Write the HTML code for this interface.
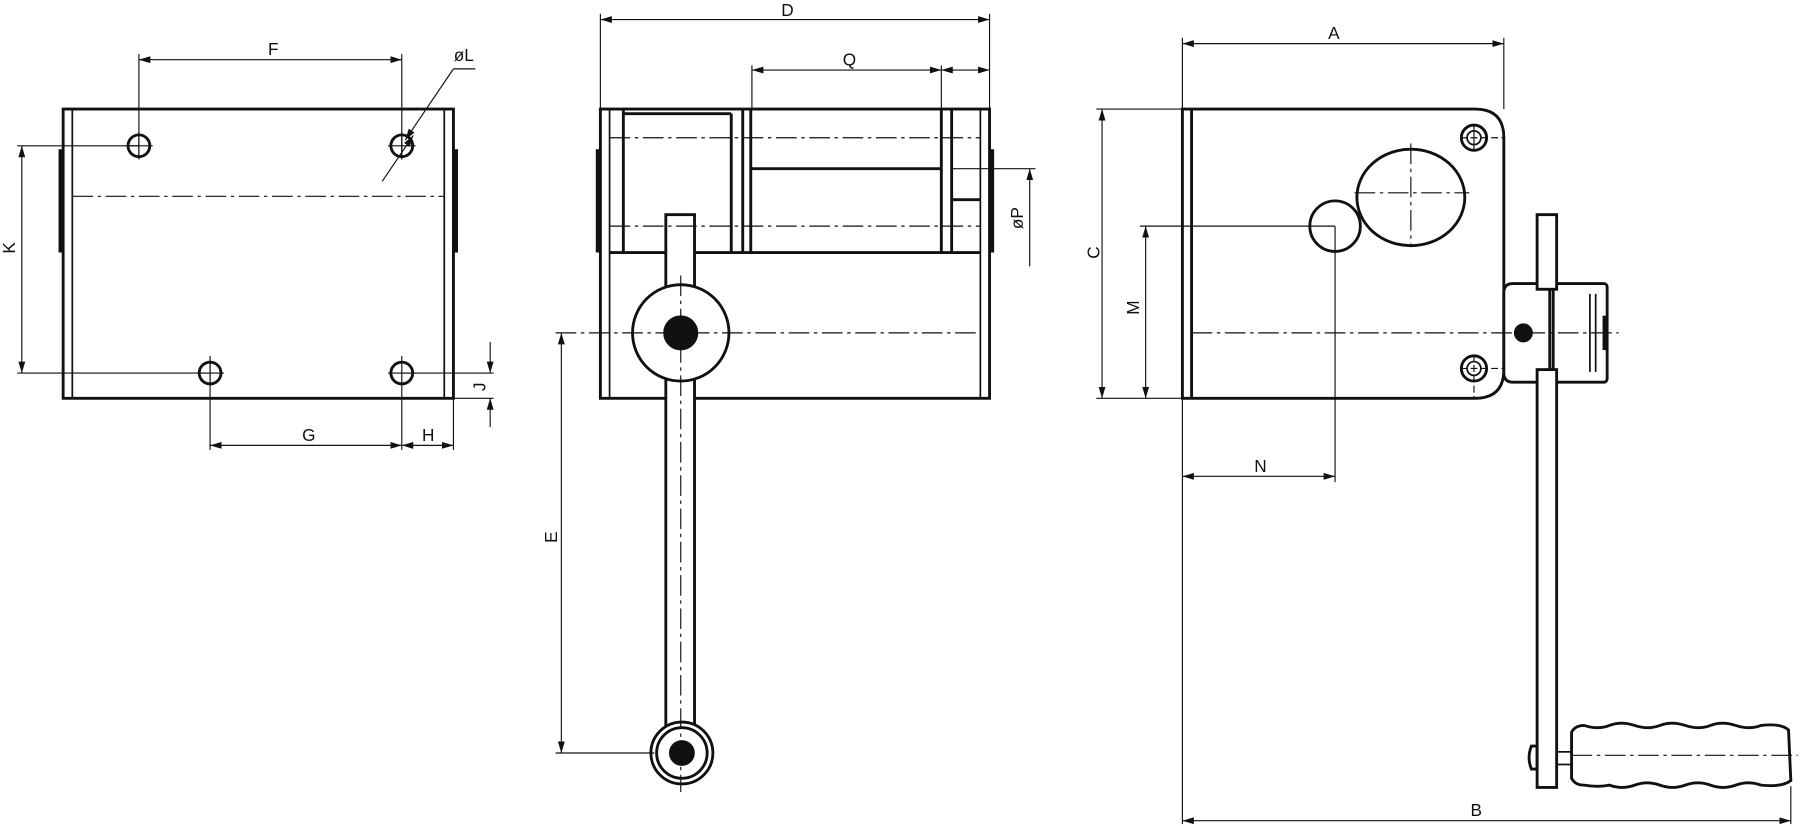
<!DOCTYPE html>
<html><head><meta charset="utf-8"><style>
html,body{margin:0;padding:0;background:#fff;}
svg{display:block;}
text{font-family:"Liberation Sans",sans-serif;font-size:15px;fill:#111;}
</style></head><body>
<svg width="1800" height="826" viewBox="0 0 1568 719.6" preserveAspectRatio="none" xmlns="http://www.w3.org/2000/svg">
<defs>
<marker id="a" viewBox="0 0 10 6" refX="10" refY="3" markerWidth="10" markerHeight="6" orient="auto-start-reverse" markerUnits="userSpaceOnUse"><path d="M0,0 L10,3 L0,6 Z" fill="#111"/></marker>
</defs>
<g fill="none" stroke="#111">
<!-- ===== LEFT VIEW ===== -->
<g stroke-width="2.5">
<rect x="55" y="95" width="340" height="252"/>
<line x1="63" y1="95" x2="63" y2="347" stroke-width="1.5"/>
<line x1="387" y1="95" x2="387" y2="347" stroke-width="1.5"/>
<line x1="53" y1="130" x2="53" y2="220" stroke-width="4"/>
<line x1="397" y1="130" x2="397" y2="220" stroke-width="4"/>
<circle cx="121" cy="127" r="9.5"/><circle cx="350" cy="127" r="9.5"/>
<circle cx="183" cy="325" r="9.5"/><circle cx="350" cy="325" r="9.5"/>
</g>
<g stroke-width="1">
<line x1="63" y1="171" x2="387" y2="171" stroke-dasharray="18,4,3,4"/>
<line x1="121" y1="47" x2="121" y2="137"/><line x1="350" y1="47" x2="350" y2="137"/>
<line x1="121" y1="52" x2="350" y2="52" marker-start="url(#a)" marker-end="url(#a)"/>
<line x1="333" y1="158" x2="360" y2="118" marker-end="url(#a)"/>
<line x1="395" y1="60" x2="353" y2="122" marker-end="url(#a)"/>
<line x1="395" y1="60" x2="414" y2="60"/>
<line x1="15" y1="127" x2="121" y2="127"/><line x1="15" y1="325" x2="183" y2="325"/>
<line x1="19" y1="127" x2="19" y2="325" marker-start="url(#a)" marker-end="url(#a)"/>
<line x1="183" y1="310" x2="183" y2="392"/><line x1="350" y1="310" x2="350" y2="392"/>
<line x1="395" y1="347" x2="395" y2="392"/>
<line x1="183" y1="388" x2="350" y2="388" marker-start="url(#a)" marker-end="url(#a)"/>
<line x1="350" y1="388" x2="395" y2="388" marker-start="url(#a)" marker-end="url(#a)"/>
<line x1="350" y1="325" x2="430" y2="325"/><line x1="395" y1="347" x2="430" y2="347"/>
<line x1="427" y1="298" x2="427" y2="325" marker-end="url(#a)"/>
<line x1="427" y1="372" x2="427" y2="347" marker-end="url(#a)"/>
<line x1="121" y1="115" x2="121" y2="139"/><line x1="109" y1="127" x2="133" y2="127"/>
<line x1="350" y1="115" x2="350" y2="139"/><line x1="338" y1="127" x2="362" y2="127"/>
<line x1="183" y1="313" x2="183" y2="337"/><line x1="171" y1="325" x2="195" y2="325"/>
<line x1="338" y1="325" x2="362" y2="325"/>
</g>
<!-- ===== MIDDLE VIEW ===== -->
<g stroke-width="2.5">
<rect x="523" y="95" width="339" height="252"/>
<line x1="531" y1="95" x2="531" y2="347" stroke-width="1.5"/>
<line x1="854" y1="95" x2="854" y2="347" stroke-width="1.5"/>
<line x1="521" y1="130" x2="521" y2="220" stroke-width="4"/>
<line x1="864" y1="130" x2="864" y2="220" stroke-width="4"/>
<line x1="543" y1="95" x2="543" y2="220"/>
<line x1="637" y1="99" x2="637" y2="220"/>
<line x1="543" y1="99" x2="637" y2="99"/>
<line x1="647" y1="95" x2="647" y2="220"/>
<line x1="654" y1="95" x2="654" y2="220"/>
<line x1="820" y1="95" x2="820" y2="220"/>
<line x1="829" y1="95" x2="829" y2="220"/>
<line x1="531" y1="220" x2="854" y2="220"/>
<line x1="654" y1="147" x2="820" y2="147"/>
<line x1="829" y1="174" x2="854" y2="174"/>
<rect x="580" y="187" width="25" height="468" fill="#fff"/>
<circle cx="593" cy="290" r="42" fill="#fff"/>
<circle cx="593" cy="290" r="14" fill="#111"/>
<circle cx="594" cy="656" r="27" fill="#fff"/>
<circle cx="594" cy="656" r="22"/>
<circle cx="594" cy="656" r="10" fill="#111"/>
</g>
<g stroke-width="1">
<line x1="531" y1="120" x2="854" y2="120" stroke-dasharray="18,4,3,4"/>
<line x1="531" y1="197" x2="854" y2="197" stroke-dasharray="18,4,3,4"/>
<line x1="484" y1="290" x2="854" y2="290" stroke-dasharray="18,4,3,4"/>
<line x1="593" y1="240" x2="593" y2="690" stroke-dasharray="18,4,3,4"/>
<line x1="484" y1="656" x2="570" y2="656"/>
<line x1="489" y1="290" x2="489" y2="656" marker-start="url(#a)" marker-end="url(#a)"/>
<line x1="523" y1="12" x2="523" y2="95"/><line x1="862" y1="12" x2="862" y2="95"/>
<line x1="523" y1="17" x2="862" y2="17" marker-start="url(#a)" marker-end="url(#a)"/>
<line x1="655" y1="57" x2="655" y2="95"/><line x1="820" y1="57" x2="820" y2="95"/>
<line x1="655" y1="61" x2="820" y2="61" marker-start="url(#a)" marker-end="url(#a)"/>
<line x1="820" y1="61" x2="862" y2="61" marker-start="url(#a)" marker-end="url(#a)"/>
<line x1="829" y1="147" x2="902" y2="147"/>
<line x1="897" y1="232" x2="897" y2="147" marker-end="url(#a)"/>
</g>
<!-- ===== RIGHT VIEW ===== -->
<g stroke-width="2.5">
<path d="M1030,95 H1285 Q1310,95 1310,120 V322 Q1310,347 1285,347 H1030 Z"/>
<line x1="1038" y1="95" x2="1038" y2="347"/>
<circle cx="1284" cy="120" r="11"/><circle cx="1284" cy="120" r="6" stroke-width="1.5"/>
<circle cx="1284" cy="321" r="11"/><circle cx="1284" cy="321" r="6" stroke-width="1.5"/>
<ellipse cx="1229" cy="172" rx="47" ry="42"/>
<circle cx="1163" cy="197" r="22"/>
<path d="M1318,247 H1350 V333 H1318 Q1310,333 1310,325 V255 Q1310,247 1318,247 Z" fill="#fff"/>
<rect x="1353" y="247" width="47" height="86" rx="3" fill="#fff"/>
<line x1="1385" y1="256" x2="1385" y2="324" stroke-width="1.5"/>
<line x1="1390" y1="256" x2="1390" y2="324" stroke-width="1.5"/>
<line x1="1398" y1="275" x2="1398" y2="305" stroke-width="4"/>
<circle cx="1327" cy="290" r="7" fill="#111"/>
<rect x="1339" y="187" width="17" height="65" fill="#fff"/>
<rect x="1339" y="322" width="17" height="364" fill="#fff"/>
<path d="M1334,650 Q1330,660 1334,670 L1339,670 L1339,650 Z"/>
<line x1="1356" y1="655" x2="1369" y2="655" stroke-width="1.5"/>
<line x1="1356" y1="666" x2="1369" y2="666" stroke-width="1.5"/>
<path d="M1369,638 Q1372,632 1380,632 Q1392,636 1402,632 T1424,632 T1446,632 T1468,632 T1490,632 T1512,632 T1534,632 Q1552,630 1558,636 L1560,680 Q1552,686 1534,684 Q1523,680 1512,684 T1490,684 T1468,684 T1446,684 T1424,684 T1402,684 Q1392,686 1380,684 Q1372,684 1369,678 Z" fill="#fff"/>
</g>
<g stroke-width="1">
<line x1="1038" y1="290" x2="1410" y2="290" stroke-dasharray="18,4,3,4"/>
<line x1="1369" y1="658" x2="1566" y2="658" stroke-dasharray="18,4,3,4"/>
<line x1="1229" y1="125" x2="1229" y2="215" stroke-dasharray="18,4,3,4"/>
<line x1="1180" y1="168" x2="1280" y2="168" stroke-dasharray="18,4,3,4"/>
<line x1="1284" y1="108" x2="1284" y2="132"/><line x1="1272" y1="120" x2="1310" y2="120" stroke-dasharray="6,3"/>
<line x1="1284" y1="309" x2="1284" y2="347" stroke-dasharray="6,3"/><line x1="1272" y1="321" x2="1310" y2="321" stroke-dasharray="6,3"/>
<line x1="1030" y1="33" x2="1030" y2="718"/>
<line x1="1310" y1="33" x2="1310" y2="95"/>
<line x1="1030" y1="38" x2="1310" y2="38" marker-start="url(#a)" marker-end="url(#a)"/>
<line x1="955" y1="95" x2="1030" y2="95"/><line x1="955" y1="347" x2="1030" y2="347"/>
<line x1="960" y1="95" x2="960" y2="347" marker-start="url(#a)" marker-end="url(#a)"/>
<line x1="993" y1="197" x2="1163" y2="197"/>
<line x1="998" y1="197" x2="998" y2="347" marker-start="url(#a)" marker-end="url(#a)"/>
<line x1="1163" y1="197" x2="1163" y2="420"/>
<line x1="1030" y1="415" x2="1163" y2="415" marker-start="url(#a)" marker-end="url(#a)"/>
<line x1="1560" y1="685" x2="1560" y2="718"/>
<line x1="1030" y1="715" x2="1560" y2="715" marker-start="url(#a)" marker-end="url(#a)"/>
</g>
</g>
<!-- labels -->
<text x="238" y="48" text-anchor="middle">F</text>
<text x="404" y="53" text-anchor="middle">øL</text>
<text x="269" y="384" text-anchor="middle">G</text>
<text x="373" y="384" text-anchor="middle">H</text>
<text transform="translate(13,216) rotate(-90)" text-anchor="middle">K</text>
<text transform="translate(423,337) rotate(-90)" text-anchor="middle">J</text>
<text x="686" y="14" text-anchor="middle">D</text>
<text x="740" y="57" text-anchor="middle">Q</text>
<text transform="translate(891,190) rotate(-90)" text-anchor="middle">øP</text>
<text transform="translate(485,468) rotate(-90)" text-anchor="middle">E</text>
<text x="1162" y="34" text-anchor="middle">A</text>
<text transform="translate(958,220) rotate(-90)" text-anchor="middle">C</text>
<text transform="translate(992,268) rotate(-90)" text-anchor="middle">M</text>
<text x="1098" y="411" text-anchor="middle">N</text>
<text x="1286" y="711" text-anchor="middle">B</text>
</svg>
</body></html>
